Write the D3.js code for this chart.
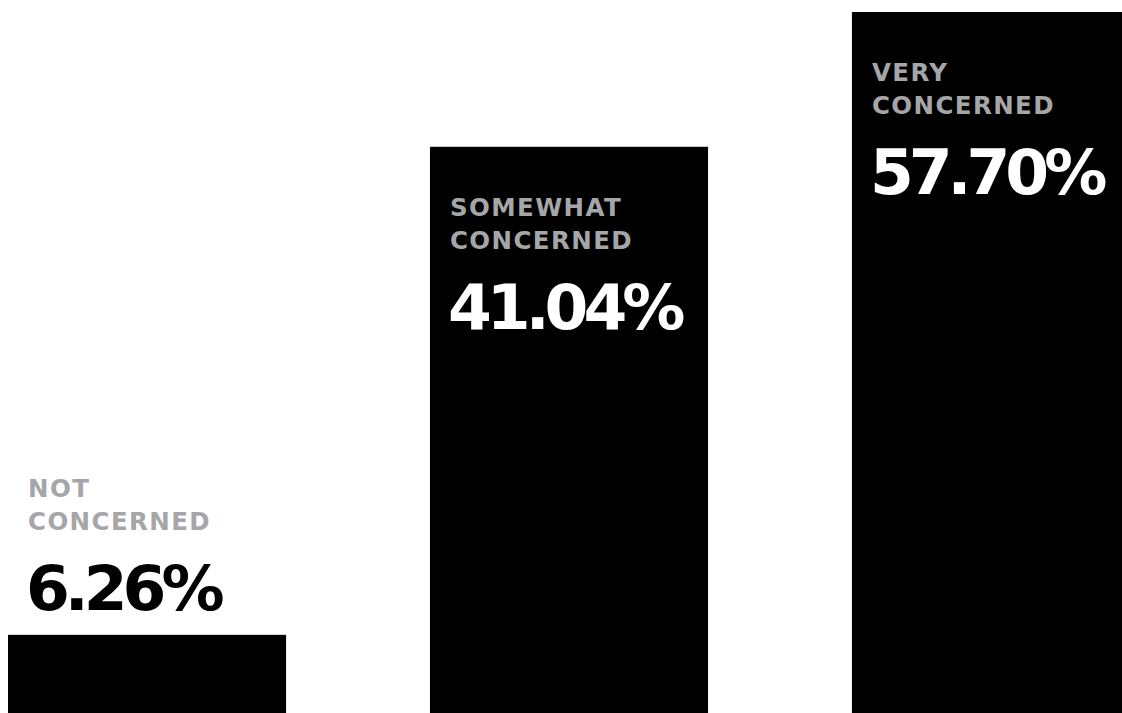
<!DOCTYPE html>
<html>
<head>
<meta charset="utf-8">
<script src="https://cdn.jsdelivr.net/npm/d3@7"></script>
<style>
  html, body { margin: 0; padding: 0; background: #fff; }
  svg { display: block; }
  text { font-family: "DejaVu Sans", sans-serif; font-weight: bold; }
</style>
</head>
<body>
<svg id="chart" width="1122" height="713"></svg>
<script>
// Share of respondents by level of concern
const categories = ["NOT CONCERNED", "SOMEWHAT CONCERNED", "VERY CONCERNED"];
const labelLines = [["NOT", "CONCERNED"], ["SOMEWHAT", "CONCERNED"], ["VERY", "CONCERNED"]];
const values = [6.26, 41.04, 57.70];

const width = 1122, height = 713;
const svg = d3.select("#chart");

const data = categories.map((c, i) => ({ cat: c, lines: labelLines[i], value: values[i] }));

const x = d3.scaleBand()
  .domain(categories)
  .range([8, 1130])
  .paddingInner(0.341)
  .paddingOuter(0);

// Compressed power scale; its zero sits below the visible frame
const y = d3.scalePow()
  .exponent(0.4)
  .domain([0, d3.max(values)])
  .range([1070, 12]);

const g = svg.selectAll("g.bar")
  .data(data)
  .join("g")
  .attr("class", "bar")
  .attr("transform", d => `translate(${x(d.cat)},0)`);

g.append("rect")
  .attr("x", 0)
  .attr("y", d => y(d.value))
  .attr("width", x.bandwidth())
  .attr("height", d => y(0) - y(d.value))
  .attr("fill", "#000");

// Labels sit inside bars with enough visible room, above the short ones
const isInside = d => (height - y(d.value)) > 250;
const labelTop = d => isInside(d) ? y(d.value) + 69 : y(d.value) - 138;

g.append("text")
  .attr("y", d => labelTop(d))
  .attr("fill", "#a5a6a8")
  .attr("font-size", 24.5)
  .attr("letter-spacing", 1.4)
  .selectAll("tspan")
  .data(d => d.lines)
  .join("tspan")
  .attr("x", 20)
  .attr("dy", (d, i) => i === 0 ? 0 : 33)
  .text(d => d);

g.append("text")
  .attr("x", 18)
  .attr("y", d => labelTop(d) + 113)
  .attr("fill", d => isInside(d) ? "#fff" : "#000")
  .attr("font-size", 63)
  .attr("letter-spacing", -5)
  .text(d => d3.format(".2f")(d.value) + "%");
</script>
</body>
</html>
